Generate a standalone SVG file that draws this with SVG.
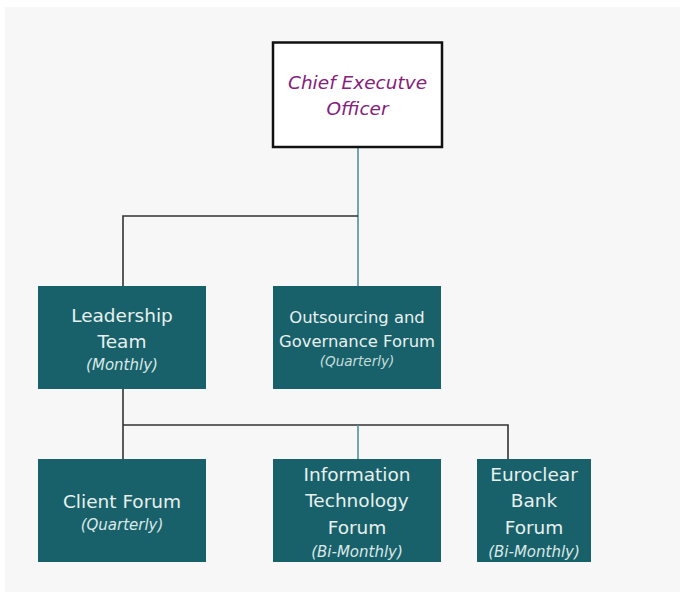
<svg xmlns="http://www.w3.org/2000/svg" width="680" height="592" viewBox="0 0 680 592">
<style>
.box{fill:#18616a}
.t{font-family:"DejaVu Sans",Verdana,sans-serif;fill:#e8f0ef;text-anchor:middle;font-size:18.5px}
.s{font-family:"DejaVu Sans",Verdana,sans-serif;fill:#dbe8e7;text-anchor:middle;font-style:italic;font-size:15px}
.ceo{font-family:"DejaVu Sans",Verdana,sans-serif;fill:#85207c;text-anchor:middle;font-style:italic;font-size:18.5px}
.k{stroke:#333;stroke-width:1.6;fill:none}
.g{stroke:#4e9196;stroke-width:1.6;fill:none}
</style>
<rect x="0" y="0" width="680" height="592" fill="#ffffff"/>
<rect x="5" y="7" width="675" height="585" fill="#f7f7f7"/>
<g id="connectors">
<line class="g" x1="358" y1="147" x2="358" y2="286"/>
<polyline class="k" points="358,216 123,216 123,286"/>
<line class="k" x1="123" y1="389" x2="123" y2="459"/>
<polyline class="k" points="123,425 508,425 508,459"/>
<line class="g" x1="358" y1="425" x2="358" y2="459"/>
</g>
<g id="ceo">
<rect x="273" y="42.5" width="169" height="104.5" fill="#ffffff" stroke="#111" stroke-width="2.5"/>
<text class="ceo" x="357.5" y="89">Chief Executve</text>
<text class="ceo" x="357.5" y="115">Officer</text>
</g>
<g id="leadership">
<rect class="box" x="38" y="286" width="168" height="103"/>
<text class="t" x="122" y="322">Leadership</text>
<text class="t" x="122" y="348">Team</text>
<text class="s" x="122" y="370">(Monthly)</text>
</g>
<g id="outsourcing">
<rect class="box" x="273" y="286" width="168" height="103"/>
<text class="t" x="357" y="323" style="font-size:16.4px">Outsourcing and</text>
<text class="t" x="357" y="347" style="font-size:16.4px">Governance Forum</text>
<text class="s" x="357" y="366" style="font-size:13.5px;opacity:0.9">(Quarterly)</text>
</g>
<g id="client">
<rect class="box" x="38" y="459" width="168" height="103"/>
<text class="t" x="122" y="508">Client Forum</text>
<text class="s" x="122" y="530">(Quarterly)</text>
</g>
<g id="it">
<rect class="box" x="273" y="459" width="168" height="103"/>
<text class="t" x="357" y="481">Information</text>
<text class="t" x="357" y="507">Technology</text>
<text class="t" x="357" y="534">Forum</text>
<text class="s" x="357" y="557">(Bi-Monthly)</text>
</g>
<g id="euroclear">
<rect class="box" x="477" y="459" width="114" height="103"/>
<text class="t" x="534" y="481">Euroclear</text>
<text class="t" x="534" y="507">Bank</text>
<text class="t" x="534" y="534">Forum</text>
<text class="s" x="534" y="557">(Bi-Monthly)</text>
</g>
</svg>
